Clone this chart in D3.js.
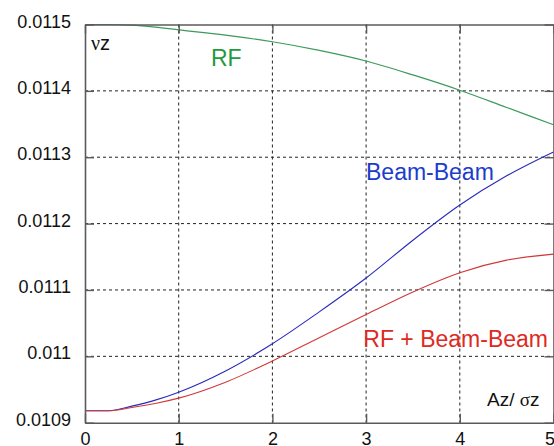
<!DOCTYPE html>
<html>
<head>
<meta charset="utf-8">
<script src="https://cdn.jsdelivr.net/npm/d3@7"></script>
<style>
  body { margin: 0; background: #fff; }
  svg { display: block; }
</style>
</head>
<body>
<div id="chart"></div>
<script>
// amplitude Az/sigma_z
var xs = [0, 0.25, 0.5, 0.75, 1, 1.5, 2, 2.5, 3, 3.5, 4, 4.5, 5];
// tune for RF only
var rfTune = [0.011500, 0.011500, 0.011499, 0.011496, 0.011492, 0.011484, 0.011474, 0.011461, 0.011445, 0.011424, 0.011401, 0.011375, 0.011349];
// tune for beam-beam only
var bbTune = [0.010918, 0.010918, 0.010925, 0.010934, 0.010946, 0.010978, 0.011019, 0.011067, 0.011118, 0.011175, 0.011228, 0.011272, 0.011308];
// tune for RF + beam-beam
var rfbbTune = [0.010918, 0.010918, 0.010923, 0.010929, 0.010937, 0.010961, 0.010993, 0.011028, 0.011063, 0.011097, 0.011126, 0.011145, 0.011154];

var xTicks = [0, 1, 2, 3, 4, 5];
var yTicks = [0.0109, 0.011, 0.0111, 0.0112, 0.0113, 0.0114, 0.0115];
var yTickLabels = ["0.0109", "0.011", "0.0111", "0.0112", "0.0113", "0.0114", "0.0115"];

var W = 554, H = 446;
var margin = {top: 24.5, right: 0.5, bottom: 23.3, left: 85};
var width = W - margin.left - margin.right,
    height = H - margin.top - margin.bottom;

var svg = d3.select("#chart").append("svg")
  .attr("width", W).attr("height", H)
  .style("font-family", "Arial, 'Liberation Sans', sans-serif");

var g = svg.append("g")
  .attr("transform", "translate(" + margin.left + "," + margin.top + ")");

var x = d3.scaleLinear().domain([0, 5]).range([0, width]);
var y = d3.scaleLinear().domain([0.0109, 0.0115]).range([height, 0]);

// dashed grid
g.append("g").selectAll("line").data(xTicks.slice(1, -1)).enter().append("line")
  .attr("x1", d => x(d)).attr("x2", d => x(d))
  .attr("y1", 0).attr("y2", height)
  .attr("stroke", "#222").attr("stroke-width", 1)
  .attr("stroke-dasharray", "3,3");
g.append("g").selectAll("line").data(yTicks.slice(1, -1)).enter().append("line")
  .attr("y1", d => y(d)).attr("y2", d => y(d))
  .attr("x1", 0).attr("x2", width)
  .attr("stroke", "#222").attr("stroke-width", 1)
  .attr("stroke-dasharray", "3,3");

// curves
var line = d3.line()
  .x((d, i) => x(xs[i]))
  .y(d => y(d))
  .curve(d3.curveMonotoneX);

g.append("path").datum(rfTune).attr("d", line)
  .attr("fill", "none").attr("stroke", "#3c9a5c").attr("stroke-width", 1.2);
g.append("path").datum(bbTune).attr("d", line)
  .attr("fill", "none").attr("stroke", "#2a2abd").attr("stroke-width", 1.1);
g.append("path").datum(rfbbTune).attr("d", line)
  .attr("fill", "none").attr("stroke", "#d03838").attr("stroke-width", 1.1);

// box axes with inward ticks
var tickLen = 9;
var axCol = "#5a5a5a";
var axLeft = g.append("g").call(d3.axisLeft(y).tickValues(yTicks).tickFormat((d, i) => yTickLabels[i]).tickSizeInner(-tickLen).tickSizeOuter(0).tickPadding(14));
var axRight = g.append("g").attr("transform", "translate(" + width + ",0)")
  .call(d3.axisRight(y).tickValues(yTicks).tickFormat("").tickSizeInner(-tickLen).tickSizeOuter(0));
var axTop = g.append("g")
  .call(d3.axisTop(x).tickValues(xTicks).tickFormat("").tickSizeInner(-tickLen).tickSizeOuter(0));
var axBottom = g.append("g").attr("transform", "translate(0," + height + ")")
  .call(d3.axisBottom(x).tickValues(xTicks).tickFormat(d3.format("d")).tickSizeInner(-tickLen).tickSizeOuter(0).tickPadding(10));

[axLeft, axRight, axTop, axBottom].forEach(function(a) {
  a.select(".domain").attr("stroke", axCol).attr("stroke-width", 1.6);
  a.selectAll(".tick line").attr("stroke", axCol).attr("stroke-width", 1.4);
  a.selectAll("text").attr("fill", "#111").style("font-size", "18px")
    .style("font-family", "Arial, 'Liberation Sans', sans-serif");
});
axLeft.selectAll("text").attr("dy", "0.14em");
// last x label sits on the window edge, keep it inside
axBottom.selectAll("text").filter(d => d === 5).attr("text-anchor", "end").attr("dx", 1);

// labels
var nu = g.append("text").attr("x", 6).attr("y", 25.5).attr("fill", "#111").style("font-size", "20px");
nu.append("tspan").style("font-family", "'Liberation Serif', 'DejaVu Serif', serif").text("ν");
nu.append("tspan").style("font-family", "Arial, 'Liberation Sans', sans-serif").text("z");

g.append("text").attr("x", 126).attr("y", 41.5)
  .attr("fill", "#1f9a3e").style("font-size", "23px").text("RF");
g.append("text").attr("x", 281).attr("y", 155.5)
  .attr("fill", "#1c3ccc").style("font-size", "23px").text("Beam-Beam");
g.append("text").attr("x", 463).attr("y", 322).attr("text-anchor", "end")
  .attr("fill", "#dd2a22").style("font-size", "23px").text("RF + Beam-Beam");

var az = g.append("text").attr("x", 402).attr("y", 381.5).attr("fill", "#111").style("font-size", "19px");
az.append("tspan").text("Az/ ");
az.append("tspan").style("font-family", "'Liberation Serif', 'DejaVu Serif', serif").text("σ");
az.append("tspan").text("z");
</script>
</body>
</html>
